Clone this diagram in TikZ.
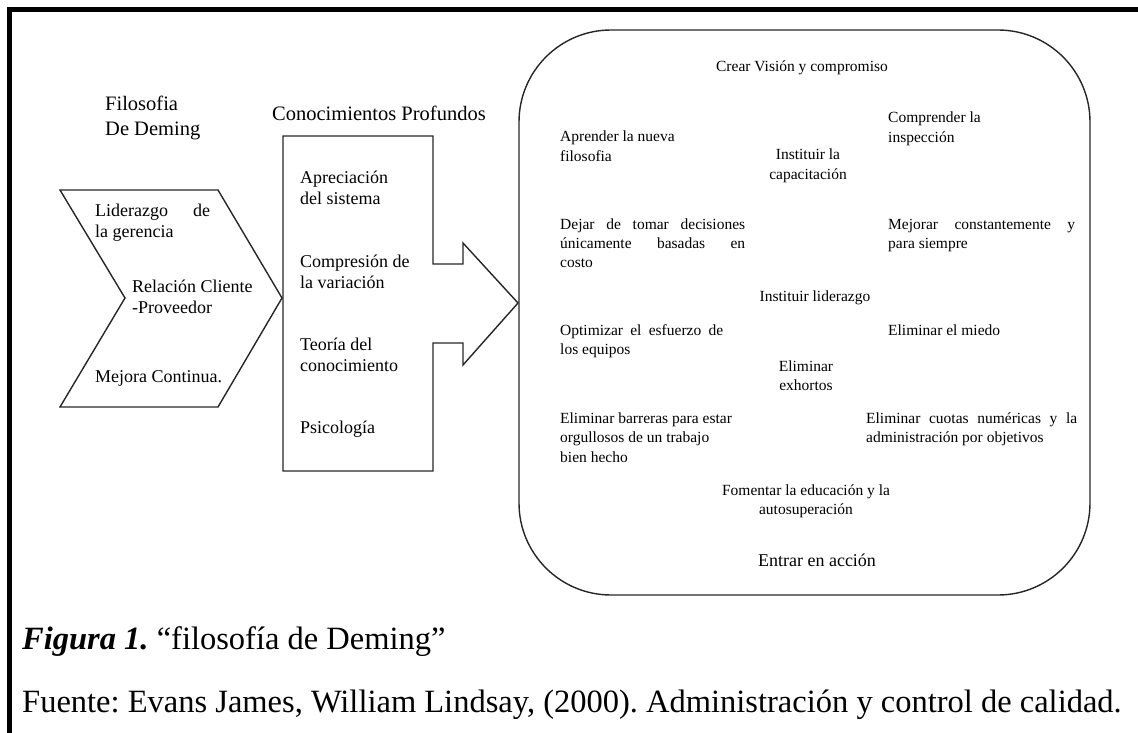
\documentclass[tikz,border=0pt]{standalone}
\usepackage{fontspec}
\setmainfont{Liberation Serif}
\frenchspacing
\newcommand\LLines[1]{\begin{tabular}[t]{@{}l@{}}#1\end{tabular}}
\newcommand\CLines[1]{\begin{tabular}[t]{@{}c@{}}#1\end{tabular}}
\newcommand\JL[2]{\makebox[#1pt][s]{#2}}
\begin{document}
\begin{tikzpicture}[x=1pt,y=-1pt,
  shape line/.style={line width=1.4pt, draw=black!85},
  boxtext/.style={inner sep=0pt, anchor=base west, font=\fontsize{15.5}{19.5}\selectfont},
  boxctext/.style={boxtext, anchor=base},
  sidetext/.style={inner sep=0pt, anchor=base west, font=\fontsize{18}{21.5}\selectfont},
  headtext/.style={inner sep=0pt, anchor=base west, font=\fontsize{20.5}{25}\selectfont},
  captext/.style={inner sep=0pt, anchor=base west, font=\fontsize{32.5}{36}\selectfont}]
\useasboundingbox (0,0) rectangle (1138,733);
% outer frame
\draw[line width=5pt] (9,740) -- (9,10) -- (1145,10);
% chevron
\draw[shape line, line join=miter] (60,190) -- (218,190) -- (282,298) -- (218,407) -- (60,407) -- (125,298) -- cycle;
% box with arrow
\draw[shape line, line join=miter] (283,136) -- (433,136) -- (433,264) -- (463,264) -- (463,243) -- (518,303) -- (463,365) -- (463,343) -- (433,343) -- (433,471) -- (283,471) -- cycle;
% rounded box
\draw[shape line, rounded corners=92pt] (519,30) rectangle (1090,595);
% headers
\node[headtext] (hfil) at (105,111) {\LLines{Filosofia\\De Deming}};
\node[headtext] (hcon) at (272,121) {Conocimientos Profundos};
% chevron texts
\node[sidetext] (lid) at (95,216) {\LLines{\JL{115}{Liderazgo de}\\la gerencia}};
\node[sidetext] (rel) at (132,292) {\LLines{Relación Cliente\\-Proveedor}};
\node[sidetext] (mej) at (95,382) {Mejora Continua.};
% middle box texts
\node[sidetext] (apr) at (300,183) {\LLines{Apreciación\\del sistema}};
\node[sidetext] (com) at (300,267) {\LLines{Compresión de\\la variación}};
\node[sidetext] (teo) at (300,350) {\LLines{Teoría del\\conocimiento}};
\node[sidetext] (psi) at (300,433) {Psicología};
% rounded box texts
\node[boxctext] (crear) at (802,72) {Crear Visión y compromiso};
\node[boxtext] (aprender) at (560,142) {\LLines{Aprender la nueva\\filosofia}};
\node[boxctext] (capac) at (808,160) {\CLines{Instituir la\\capacitación}};
\node[boxtext] (insp) at (888,123) {\LLines{Comprender la\\inspección}};
\node[boxtext] (dejar) at (560,229) {\LLines{\JL{185}{Dejar de tomar decisiones}\\\JL{185}{únicamente basadas en}\\costo}};
\node[boxtext] (mejorar) at (888,229) {\LLines{\JL{187}{Mejorar constantemente y}\\para siempre}};
\node[boxctext] (lider) at (815,301) {Instituir liderazgo};
\node[boxtext] (optim) at (560,335) {\LLines{\JL{163}{Optimizar el esfuerzo de}\\los equipos}};
\node[boxtext] (miedo) at (888,335) {Eliminar el miedo};
\node[boxctext] (exhort) at (806,371) {\CLines{Eliminar\\exhortos}};
\node[boxtext] (barr) at (560,423) {\LLines{Eliminar barreras para estar\\orgullosos de un trabajo\\bien hecho}};
\node[boxtext] (cuotas) at (866,423) {\LLines{\JL{211}{Eliminar cuotas numéricas y la}\\administración por objetivos}};
\node[boxctext] (foment) at (806,495) {\CLines{Fomentar la educación y la\\autosuperación}};
\node[boxctext, font=\fontsize{18}{22}\selectfont] (entrar) at (817,566) {Entrar en acción};
% caption
\node[captext] (fig) at (22,649) {\textbf{\textit{Figura 1.}} “filosofía de Deming”};
\node[captext] (fuente) at (22,712) {Fuente: Evans James, William Lindsay, (2000). Administración y control de calidad.};
\end{tikzpicture}
\end{document}
